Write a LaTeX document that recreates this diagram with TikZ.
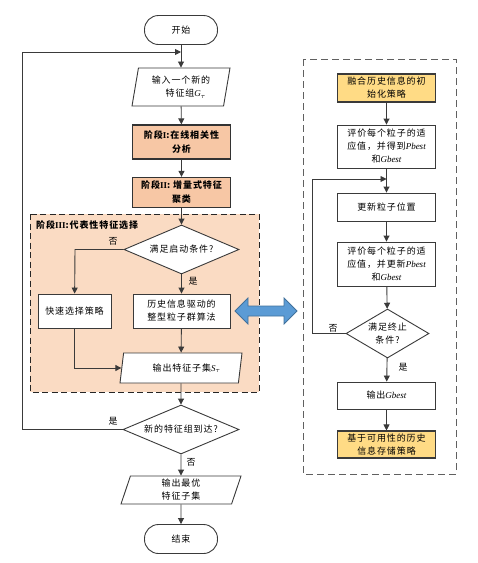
\documentclass[tikz,border=0pt]{standalone}
\usepackage{fontspec}
\setmainfont{Liberation Serif}
\newfontfamily\cjk[LetterSpace=10]{Noto Sans CJK SC}
\usetikzlibrary{shapes.geometric,arrows.meta,calc}
\definecolor{linec}{HTML}{3A3A3A}
\definecolor{stagefill}{HTML}{F7C7A5}
\definecolor{regionfill}{HTML}{FADBC3}
\definecolor{goldfill}{HTML}{FFDB85}
\definecolor{bluefill}{HTML}{5B9BD5}
\definecolor{blueline}{HTML}{41719C}
\definecolor{grayline}{HTML}{606060}
\begin{document}
\begin{tikzpicture}[x=1pt,y=-1pt,
  txt/.style={font=\cjk\fontsize{9}{13}\selectfont, text=black},
  box/.style={txt, draw=linec, line width=0.9pt, fill=white, align=center, inner sep=1pt, minimum width=98pt},
  stagebox/.style={box, fill=stagefill, line width=1.3pt, draw=black!80, font=\cjk\bfseries\fontsize{9}{14}\selectfont},
  goldbox/.style={box, fill=goldfill, line width=1.1pt},
  term/.style={txt, draw=linec, line width=0.9pt, fill=white, rounded corners=14pt, minimum width=73pt, minimum height=29pt},
  dec/.style={txt, diamond, draw=linec, line width=0.9pt, fill=white, aspect=2.3, inner sep=0pt, align=center},
  io/.style={txt, trapezium, trapezium stretches body, draw=linec, line width=0.9pt, fill=white, align=center, inner sep=1pt},
  lab/.style={txt, inner sep=0pt},
  arr/.style={draw=linec, line width=0.9pt, -{Triangle[length=6pt,width=6pt]}},
  ln/.style={draw=linec, line width=0.9pt}
]
\useasboundingbox (0,0) rectangle (478,563);

% regions
\draw[fill=regionfill, draw=black!85, line width=1pt, dash pattern=on 6pt off 3.5pt] (30,214) rectangle (259,392);
\draw[draw=grayline, line width=1pt, dash pattern=on 7pt off 4pt] (303,59) rectangle (456,474);

% left column
\node[term] (start) at (181,30) {开始};
\node[io, trapezium left angle=75, trapezium right angle=105, minimum width=98pt, minimum height=38pt] (inp) at (181,87) {输入一个新的\\\hspace*{1em}特征组{\rmfamily\itshape\small G}\raisebox{-1.5pt}{\rmfamily\scriptsize$\tau$}};
\node[stagebox, minimum height=34pt] (s1) at (181.5,142) {阶段{\rmfamily I}:在线相关性\\分析};
\node[stagebox, minimum height=30pt] (s2) at (181.5,192.5) {阶段{\rmfamily II}: 增量式特征\\聚类};
\node[txt, font=\cjk\bfseries\fontsize{9}{12}\selectfont, anchor=west, inner sep=0pt] (s3) at (36,225) {阶段{\rmfamily III}:代表性特征选择};
\node[dec, minimum width=115pt, minimum height=49pt] (d1) at (181.5,249.5) {满足启动条件?};
\node[box, minimum width=73pt, minimum height=34pt] (fast) at (74.5,311) {快速选择策略};
\node[box, minimum width=97pt, minimum height=34pt] (pso) at (181.5,311) {历史信息驱动的\\整型粒子群算法};
\node[io, trapezium left angle=72, trapezium right angle=108, minimum width=122pt, minimum height=30pt] (outs) at (181,368) {\hspace*{1.2em}输出特征子集{\rmfamily\itshape S}\raisebox{-1.5pt}{\rmfamily\scriptsize$\tau$}};
\node[dec, minimum width=116pt, minimum height=49pt] (d2) at (181,429.5) {新的特征组到达?};
\node[io, trapezium left angle=68, trapezium right angle=112, minimum width=120pt, minimum height=28pt] (best) at (181,490) {输出最优\\特征子集};
\node[term] (end) at (181,539) {结束};

\node[lab] (no1) at (113,241) {否};
\node[lab] (yes1) at (193,281) {是};
\node[lab] (yes2) at (113,421) {是};
\node[lab] (no2) at (191,462) {否};

\coordinate (j1) at (181,52);
\coordinate (loopL) at (22,52);
\coordinate (fastL) at (75,249.5);

\draw[arr] (start) -- (inp);
\draw[arr] (inp) -- (s1);
\draw[arr] (s1) -- (s2);
\draw[arr] (s2) -- (d1);
\draw[arr] (d1.west) -- (fastL) -- (fast);
\draw[arr] (d1) -- (pso);
\draw[arr] (pso) -- (outs);
\draw[arr] (fast.south) |- (outs.west);
\draw[arr] (outs) -- (d2);
\draw[arr] (d2.west) -| (loopL) -- (j1);
\draw[arr] (d2) -- (best);
\draw[arr] (best) -- (end);

% right column
\node[goldbox, minimum height=28pt] (init) at (386.5,88) {融合历史信息的初\\始化策略};
\node[box, minimum height=43pt] (ev1) at (386.5,146.5) {评价每个粒子的适\\应值，并得到{\rmfamily\itshape Pbest}\\和{\rmfamily\itshape Gbest}};
\node[box, minimum height=28pt] (upd) at (386.5,207) {更新粒子位置};
\node[box, minimum height=44pt] (ev2) at (386.5,264) {评价每个粒子的适\\应值，并更新{\rmfamily\itshape Pbest}\\和{\rmfamily\itshape Gbest}};
\node[dec, minimum width=83pt, minimum height=49pt, aspect=1.7] (d3) at (387.5,333.5) {满足终止\\条件?};
\node[box, minimum height=27pt] (og) at (386.5,395.5) {输出{\rmfamily\itshape Gbest}};
\node[goldbox, minimum height=27pt] (store) at (386.5,444.5) {基于可用性的历史\\信息存储策略};

\node[lab] (no3) at (333,328) {否};
\node[lab] (yes3) at (403,367) {是};

\coordinate (j2) at (386.5,179);
\coordinate (loopR) at (312,179);

\draw[arr] (init) -- (ev1);
\draw[arr] (ev1) -- (upd);
\draw[arr] (upd) -- (ev2);
\draw[arr] (ev2) -- (d3);
\draw[arr] (d3) -- (og);
\draw[arr] (og) -- (store);
\draw[arr] (d3.west) -| (loopR) -- (j2);

% blue double arrow
\draw[fill=bluefill, draw=blueline, line width=0.8pt, line join=miter]
  (235,311) -- (248,298) -- (248,306) -- (284,306) -- (284,298) -- (297,311)
  -- (284,324) -- (284,316) -- (248,316) -- (248,324) -- cycle;
\end{tikzpicture}
\end{document}
